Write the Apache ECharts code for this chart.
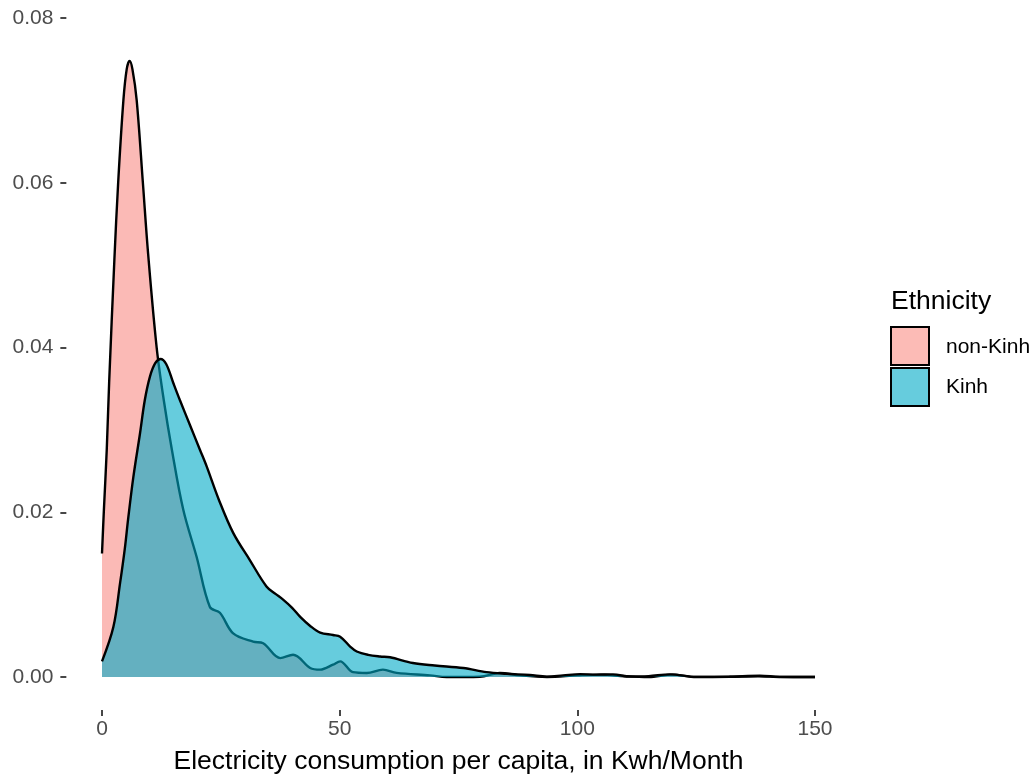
<!DOCTYPE html>
<html>
<head>
<meta charset="utf-8">
<title>Electricity consumption density by ethnicity</title>
<script src="https://cdn.jsdelivr.net/npm/echarts@6/dist/echarts.min.js"></script>
<style>
  html, body { margin: 0; padding: 0; background: #ffffff; }
  #chart { width: 1032px; height: 778px; }
</style>
</head>
<body>
<div id="chart"></div>
<script>
// Kernel density estimates of monthly electricity consumption per capita (kWh)
const nonKinhX = [0, 0.4, 1.0, 1.5, 2.6, 3.4, 4.5, 5.2, 5.8, 6.4, 7.3, 8.6, 9.7, 11.5, 13.0, 14.7, 17.1, 19.9, 22.7, 24.8, 27.6, 31.8, 33.9, 37.5, 40.2, 43.8, 45.9, 48.6, 50.1, 52.8, 55.7, 59.1, 62.0, 69.0, 72.5, 79.5, 83.7, 87.9, 93.6, 100, 105, 110, 115, 120, 125, 132, 138, 143, 150];
const nonKinhDensity = [0.0150, 0.0203, 0.0276, 0.0357, 0.0506, 0.0600, 0.0700, 0.0738, 0.0748, 0.0738, 0.0700, 0.0600, 0.0514, 0.0400, 0.0336, 0.0276, 0.0203, 0.0146, 0.0085, 0.0078, 0.0053, 0.0043, 0.0041, 0.0023, 0.0027, 0.0011, 0.0009, 0.0015, 0.0019, 0.0006, 0.0005, 0.0009, 0.0005, 0.0002, 0.0000, 0.00004, 0.0005, 0.0002, 0.0000, 0.0002, 0.0003, 0.0001, 0.0000, 0.0003, 0.0000, 0.00003, 0.0001, 0.0000, 0.0000];

const kinhX = [0, 2.4, 3.8, 4.8, 5.5, 6.6, 8.0, 9.0, 10.1, 11.2, 12.3, 13.5, 15.0, 16.4, 18.5, 20.6, 22.0, 24.6, 27.6, 31.1, 34.6, 36.5, 38.1, 40.0, 41.7, 43.8, 45.9, 48.6, 50.1, 52.2, 53.6, 56.0, 58.5, 60.6, 65.4, 70.0, 76.0, 80.9, 85.0, 90.0, 93.6, 97.0, 100.6, 104.0, 107.5, 111.1, 115.0, 119.5, 125.0, 132.0, 138.4, 142.6, 150];
const kinhDensity = [0.0019, 0.0061, 0.0114, 0.0156, 0.0192, 0.0243, 0.0296, 0.0336, 0.0365, 0.0381, 0.0386, 0.0380, 0.0357, 0.0336, 0.0306, 0.0276, 0.0256, 0.0215, 0.0175, 0.0142, 0.0110, 0.0101, 0.0094, 0.0084, 0.0073, 0.0062, 0.0054, 0.0051, 0.0049, 0.0037, 0.0031, 0.0027, 0.0025, 0.0024, 0.0017, 0.0014, 0.0011, 0.0006, 0.0004, 0.00024, 0.00005, 0.0002, 0.00036, 0.0003, 0.00033, 0.00005, 0.0001, 0.00033, 0.00002, 0.00005, 0.00016, 0.00002, 0.0];

const groupNames = ['non-Kinh', 'Kinh'];
const legendTitle = 'Ethnicity';
const xAxisTitle = 'Electricity consumption per capita, in Kwh/Month';

// Tick positions shown on each axis
const xTicks = [0, 50, 100, 150];
const yTicks = [0, 0.02, 0.04, 0.06, 0.08];

// Panel limits include a small margin around the data range
const xMin = -7.5, xMax = 157.5;
const yMin = -0.004, yMax = 0.0805;

const pinkFill = 'rgba(248, 118, 109, 0.5)';
const tealFill = 'rgba(0, 170, 198, 0.6)';
const pinkKey = '#fcbbb6';
const tealKey = '#66ccdd';

function pairs(xs, ys) {
  return xs.map((x, i) => [x, ys[i]]);
}

const chart = echarts.init(document.getElementById('chart'), null, { renderer: 'canvas' });

const fontFamily = '"Liberation Sans", Arial, sans-serif';

chart.setOption({
  backgroundColor: '#ffffff',
  animation: false,
  grid: {
    left: 66.35, right: 181.35, top: 13.9, bottom: 68,
    containLabel: false,
    outerBoundsMode: 'none'
  },
  xAxis: {
    type: 'value',
    min: xMin, max: xMax,
    splitLine: { show: false },
    axisLine: { show: false, onZero: false },
    axisTick: { show: true, length: 6, customValues: xTicks, lineStyle: { color: '#333333', width: 1.8 } },
    axisLabel: { color: '#4d4d4d', fontSize: 21, fontFamily: fontFamily, margin: 9, customValues: xTicks },
    name: xAxisTitle,
    nameLocation: 'middle',
    nameGap: 38,
    nameTextStyle: { color: '#000000', fontSize: 26.5, fontFamily: fontFamily }
  },
  yAxis: {
    type: 'value',
    min: yMin, max: yMax,
    splitLine: { show: false },
    axisLine: { show: false, onZero: false },
    axisTick: { show: true, length: 6, customValues: yTicks, lineStyle: { color: '#333333', width: 1.8 } },
    axisLabel: {
      color: '#4d4d4d', fontSize: 21, fontFamily: fontFamily, margin: 13,
      customValues: yTicks,
      formatter: v => v.toFixed(2)
    }
  },
  series: [
    {
      name: groupNames[0],
      type: 'line',
      data: pairs(nonKinhX, nonKinhDensity),
      smooth: 0.35,
      showSymbol: false,
      symbol: 'none',
      lineStyle: { color: '#000000', width: 2.4 },
      areaStyle: { color: pinkFill, opacity: 1, origin: 'auto' },
      z: 2
    },
    {
      name: groupNames[1],
      type: 'line',
      data: pairs(kinhX, kinhDensity),
      smooth: 0.35,
      showSymbol: false,
      symbol: 'none',
      lineStyle: { color: '#000000', width: 2.4 },
      areaStyle: { color: tealFill, opacity: 1, origin: 'auto' },
      z: 3
    }
  ],
  graphic: [
    {
      type: 'text', left: 891, top: 288,
      style: { text: legendTitle, fill: '#000000', font: '26.5px ' + fontFamily }
    },
    {
      type: 'rect', shape: { x: 891, y: 327, width: 38, height: 38 },
      style: { fill: pinkKey, stroke: '#000000', lineWidth: 2 }
    },
    {
      type: 'rect', shape: { x: 891, y: 368, width: 38, height: 38 },
      style: { fill: tealKey, stroke: '#000000', lineWidth: 2 }
    },
    {
      type: 'text', left: 946, top: 337,
      style: { text: groupNames[0], fill: '#000000', font: '21px ' + fontFamily }
    },
    {
      type: 'text', left: 946, top: 377,
      style: { text: groupNames[1], fill: '#000000', font: '21px ' + fontFamily }
    }
  ]
});
</script>
</body>
</html>
